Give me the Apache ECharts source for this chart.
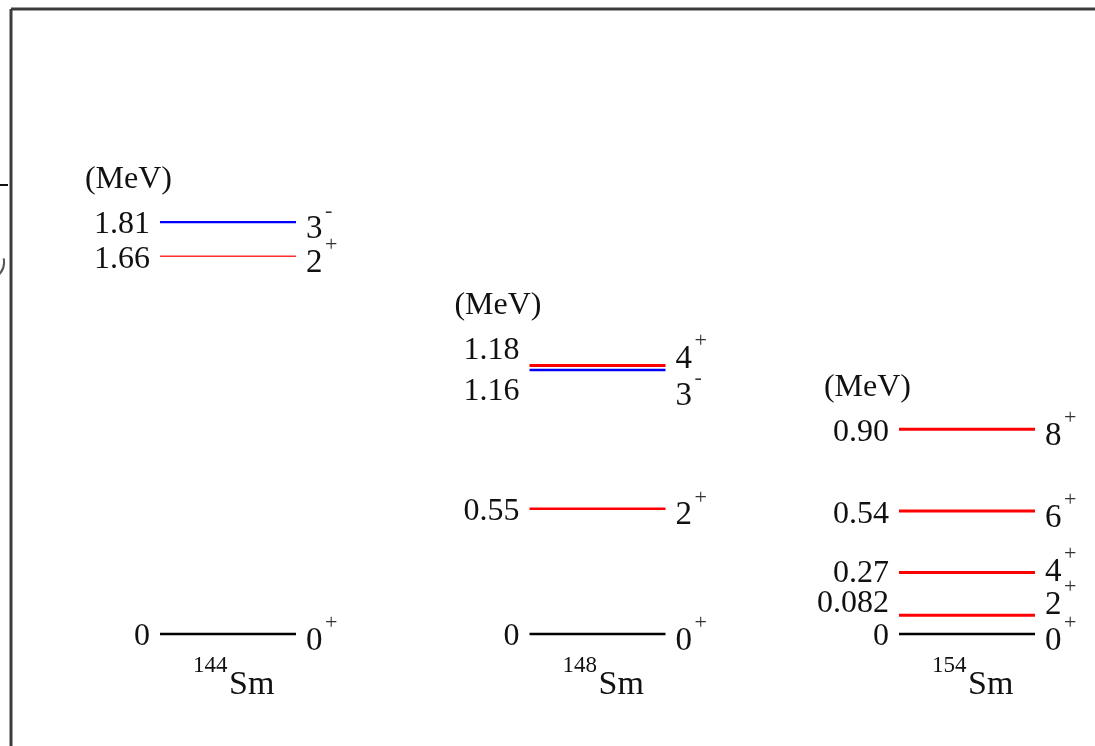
<!DOCTYPE html>
<html>
<head>
<meta charset="utf-8">
<script src="https://cdn.jsdelivr.net/npm/echarts@6/dist/echarts.min.js"></script>
<style>
  html, body { margin: 0; padding: 0; background: #fff; }
  #chart { width: 1095px; height: 746px; }
</style>
</head>
<body>
<div id="chart"></div>
<script>
// level schemes of the three Sm isotopes (energies in MeV)
const nuclei = ['144', '148', '154'];
const element = 'Sm';

const energies144 = [0, 1.66, 1.81];
const labels144 = ['0', '1.66', '1.81'];
const spins144 = ['0', '2', '3'];
const parities144 = ['+', '+', '-'];

const energies148 = [0, 0.55, 1.16, 1.18];
const labels148 = ['0', '0.55', '1.16', '1.18'];
const spins148 = ['0', '2', '3', '4'];
const parities148 = ['+', '+', '-', '+'];

const energies154 = [0, 0.082, 0.27, 0.54, 0.90];
const labels154 = ['0', '0.082', '0.27', '0.54', '0.90'];
const spins154 = ['0', '2', '4', '6', '8'];
const parities154 = ['+', '+', '+', '+', '+'];

const unitLabel = '(MeV)';

const FONT = "'Liberation Serif', 'Times New Roman', serif";
const HALF = 68; // half length of a level line, px

// small nudges so close-lying labels do not overlap
const valueNudge = { '1-3': -18, '1-2': 19, '2-1': -15, '2-2': -2 };
const spinNudge = { '1-3': -13, '1-2': 19, '2-1': -17, '2-2': -7 };

function levelStyle(n, k, parity) {
  if (k === 0) return { color: '#000', width: 2.5 };
  if (parity === '-') return { color: '#0000ff', width: n === 0 ? 2.2 : 2.5 };
  if (n === 0) return { color: '#ff3030', width: 1.6 };
  return { color: '#ff0000', width: n === 1 && k === 1 ? 2.5 : 3 };
}

function makeSeries(n, energies, labels, spins, parities) {
  return {
    type: 'custom',
    coordinateSystem: 'cartesian2d',
    silent: true,
    data: energies.map((e, k) => [n, e, k]),
    renderItem: (params, api) => {
      const k = api.value(2);
      const p = api.coord([api.value(0), api.value(1)]);
      const cx = p[0], py = p[1];
      const st = levelStyle(n, k, parities[k]);
      const key = n + '-' + k;
      const vy = py + 3 + (valueNudge[key] || 0);
      const sy = py + 7 + (spinNudge[key] || 0);
      const children = [
        {
          type: 'line',
          shape: { x1: cx - HALF, y1: py, x2: cx + HALF, y2: py },
          style: { stroke: st.color, lineWidth: st.width }
        },
        {
          type: 'text',
          x: cx - HALF - 10, y: vy,
          style: { text: labels[k], font: '32px ' + FONT, fill: '#111', align: 'right', verticalAlign: 'middle' }
        },
        {
          type: 'text',
          x: cx + HALF + 10, y: sy,
          style: { text: spins[k], font: '33px ' + FONT, fill: '#111', align: 'left', verticalAlign: 'middle' }
        },
        {
          type: 'text',
          x: cx + HALF + 29, y: sy - 18,
          style: { text: parities[k], font: '22px ' + FONT, fill: '#333', align: 'left', verticalAlign: 'middle' }
        }
      ];
      if (k === energies.length - 1) {
        children.push({
          type: 'text',
          x: cx - 56, y: vy - 45,
          style: { text: unitLabel, font: '32px ' + FONT, fill: '#111', align: 'right', verticalAlign: 'middle' }
        });
      }
      if (k === 0) {
        children.push({
          type: 'text',
          x: cx - 35, y: py + 32,
          style: { text: nuclei[n], font: '23px ' + FONT, fill: '#111', align: 'left', verticalAlign: 'middle' }
        });
        children.push({
          type: 'text',
          x: cx + 1, y: py + 51,
          style: { text: element, font: '34px ' + FONT, fill: '#111', align: 'left', verticalAlign: 'middle' }
        });
      }
      return { type: 'group', children };
    }
  };
}

const chart = echarts.init(document.getElementById('chart'), null, { renderer: 'canvas' });
chart.setOption({
  animation: false,
  backgroundColor: '#fff',
  grid: { left: 43.25, right: 17.15, top: 65, bottom: 112 },
  xAxis: { type: 'value', min: -0.5, max: 2.3, show: false },
  yAxis: { type: 'value', min: 0, max: 2.5, show: false },
  graphic: [
    { type: 'line', shape: { x1: 11, y1: 9, x2: 1095, y2: 9 }, style: { stroke: '#3c3c3c', lineWidth: 3 } },
    { type: 'line', shape: { x1: 11, y1: 9, x2: 11, y2: 746 }, style: { stroke: '#3c3c3c', lineWidth: 3 } },
    { type: 'line', shape: { x1: 0, y1: 185, x2: 8, y2: 185 }, style: { stroke: '#111', lineWidth: 2 } },
    { type: 'arc', shape: { cx: -14, cy: 262, r: 18, startAngle: -0.2, endAngle: 0.9 }, style: { stroke: '#555', lineWidth: 2, fill: null } }
  ],
  series: [
    makeSeries(0, energies144, labels144, spins144, parities144),
    makeSeries(1, energies148, labels148, spins148, parities148),
    makeSeries(2, energies154, labels154, spins154, parities154)
  ]
});
</script>
</body>
</html>
